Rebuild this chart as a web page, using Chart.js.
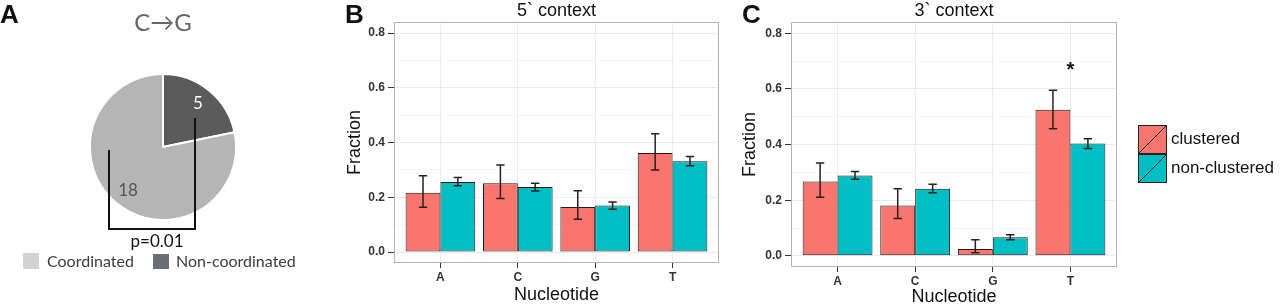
<!DOCTYPE html>
<html>
<head>
<meta charset="utf-8">
<script src="https://cdn.jsdelivr.net/npm/chart.js@4"></script>
<style>
  html, body { margin: 0; padding: 0; background: #fff; }
  #wrap { position: relative; width: 1280px; height: 306px; overflow: hidden; background: #fff; }
  canvas { position: absolute; top: 0; }
  .letter { position: absolute; top: 1px; font: bold 26px/26px "Liberation Sans", Arial, sans-serif; color: #111; }
</style>
</head>
<body>
<div id="wrap">
  <canvas id="pie" width="330" height="306" style="left:0px"></canvas>
  <canvas id="b" width="400" height="306" style="left:330px"></canvas>
  <canvas id="c" width="550" height="306" style="left:730px"></canvas>
  <div class="letter" style="left:0px">A</div>
  <div class="letter" style="left:345px">B</div>
  <div class="letter" style="left:742px">C</div>
</div>
<script>
// ---------- data ----------
const pieTitle = 'C\u2192G';
const pieLabels = ['Non-coordinated', 'Coordinated'];
const pieCounts = [5, 18];
const pieText = 'p=0.01';

const categories = ['A', 'C', 'G', 'T'];
const seriesNames = ['clustered', 'non-clustered'];
const yTickValues = [0, 0.2, 0.4, 0.6, 0.8];
const yMinorValues = [0.1, 0.3, 0.5, 0.7];

// 5` context
const ctx5Clustered = [0.217, 0.251, 0.165, 0.362];
const ctx5ClusteredLo = [0.164, 0.196, 0.120, 0.300];
const ctx5ClusteredHi = [0.279, 0.318, 0.224, 0.432];
const ctx5Non = [0.256, 0.238, 0.170, 0.332];
const ctx5NonLo = [0.242, 0.223, 0.156, 0.315];
const ctx5NonHi = [0.272, 0.251, 0.183, 0.349];

// 3` context
const ctx3Clustered = [0.267, 0.181, 0.025, 0.525];
const ctx3ClusteredLo = [0.211, 0.134, 0.011, 0.457];
const ctx3ClusteredHi = [0.334, 0.241, 0.058, 0.595];
const ctx3Non = [0.289, 0.241, 0.067, 0.404];
const ctx3NonLo = [0.275, 0.227, 0.058, 0.386];
const ctx3NonHi = [0.303, 0.257, 0.076, 0.421];

// significance marker (3` context, T)
const starCategory = 'T';
const starValue = 0.68;

// ---------- styling ----------
const RED = '#F8766D', TEAL = '#00BFC4';
const SANS = '"Liberation Sans", Arial, sans-serif';
const CAL = 'Lato, "Open Sans", sans-serif';

// ---------- pie (panel A) ----------
const pieExtras = {
  id: 'pieExtras',
  afterDatasetsDraw(chart) {
    const ctx = chart.ctx;
    const meta = chart.getDatasetMeta(0);
    const arcs = meta.data;
    const cx = arcs[0].x, cy = arcs[0].y, r = arcs[0].outerRadius;
    ctx.save();
    ctx.textAlign = 'center'; ctx.textBaseline = 'middle';
    ctx.font = '17px ' + CAL;
    const textColors = ['#ffffff', '#555555'];
    arcs.forEach((a, i) => {
      const mid = (a.startAngle + a.endAngle) / 2;
      ctx.fillStyle = textColors[i];
      ctx.fillText(String(pieCounts[i]), cx + Math.cos(mid) * r * 0.76, cy + Math.sin(mid) * r * 0.76);
    });
    ctx.fillStyle = '#666666';
    ctx.font = '24px ' + CAL;
    ctx.fillText(pieTitle, cx, 23);
    ctx.strokeStyle = '#111'; ctx.lineWidth = 2;
    ctx.beginPath();
    ctx.moveTo(cx - 54, cy + 3);
    ctx.lineTo(cx - 54, cy + 82);
    ctx.lineTo(cx + 32, cy + 82);
    ctx.lineTo(cx + 32, cy - 29);
    ctx.stroke();
    ctx.fillStyle = '#111';
    ctx.font = '17px ' + CAL;
    ctx.fillText(pieText, cx - 6, cy + 95);
    ctx.textAlign = 'left';
    ctx.font = '16px ' + CAL;
    ctx.fillStyle = '#d3d3d3'; ctx.fillRect(23, 253, 16, 16);
    ctx.fillStyle = '#3c3c3c'; ctx.fillText(pieLabels[1], 47, 262);
    ctx.fillStyle = '#6a6d73'; ctx.fillRect(153, 254, 16, 15);
    ctx.fillStyle = '#3c3c3c'; ctx.fillText(pieLabels[0], 176, 262);
    ctx.restore();
  }
};

new Chart(document.getElementById('pie'), {
  type: 'pie',
  data: {
    labels: pieLabels,
    datasets: [{
      data: pieCounts,
      backgroundColor: ['#5b5b5b', '#b5b5b5'],
      borderColor: '#ffffff',
      borderWidth: 2
    }]
  },
  options: {
    responsive: false, animation: false, devicePixelRatio: 1,
    layout: { padding: { left: 89, right: 93, top: 73, bottom: 85 } },
    plugins: { legend: { display: false }, tooltip: { enabled: false } }
  },
  plugins: [pieExtras]
});

// ---------- bar panels ----------
function isMajor(v) { return yTickValues.some(t => Math.abs(t - v) < 1e-9); }

const barExtras = {
  id: 'barExtras',
  afterDatasetsDraw(chart, args, opts) {
    const ctx = chart.ctx;
    const ys = chart.scales.y, xs = chart.scales.x;
    ctx.save();
    ctx.strokeStyle = '#2a1f1f'; ctx.lineWidth = 1.5;
    chart.data.datasets.forEach((ds, di) => {
      const meta = chart.getDatasetMeta(di);
      meta.data.forEach((bar, i) => {
        const lo = ys.getPixelForValue(ds.errLo[i]);
        const hi = ys.getPixelForValue(ds.errHi[i]);
        const cw = bar.width * 0.12;
        ctx.beginPath();
        ctx.moveTo(bar.x, lo); ctx.lineTo(bar.x, hi);
        ctx.moveTo(bar.x - cw, lo); ctx.lineTo(bar.x + cw, lo);
        ctx.moveTo(bar.x - cw, hi); ctx.lineTo(bar.x + cw, hi);
        ctx.stroke();
      });
    });
    const a = chart.chartArea;
    ctx.strokeStyle = '#b3b3b3'; ctx.lineWidth = 1;
    ctx.strokeRect(Math.round(a.left) + 0.5, Math.round(a.top) + 0.5, Math.round(a.right - a.left) - 1, Math.round(a.bottom - a.top) - 1);
    if (opts.star) {
      ctx.fillStyle = '#111';
      ctx.font = 'bold 20px ' + SANS;
      ctx.textAlign = 'center'; ctx.textBaseline = 'middle';
      ctx.fillText('*', xs.getPixelForValue(categories.indexOf(opts.star.cat) + 1), ys.getPixelForValue(opts.star.value) + 4);
    }
    if (opts.legend) {
      const x0 = a.right + 21, y0 = 125, s = 29;
      const cols = [RED, TEAL];
      ctx.font = '17px ' + SANS; ctx.textAlign = 'left'; ctx.textBaseline = 'middle';
      seriesNames.forEach((n, i) => {
        const y = y0 + i * s;
        ctx.fillStyle = cols[i]; ctx.fillRect(x0, y, s, s);
        ctx.strokeStyle = '#222'; ctx.lineWidth = 1;
        ctx.strokeRect(x0 + 0.5, y + 0.5, s - 1, s - 1);
        ctx.beginPath(); ctx.moveTo(x0 + 1, y + s - 1); ctx.lineTo(x0 + s - 1, y + 1); ctx.stroke();
        ctx.fillStyle = '#111';
        ctx.fillText(n, x0 + s + 4, y + s / 2);
      });
    }
    ctx.restore();
  }
};

function makeBar(id, title, cl, clLo, clHi, nc, ncLo, ncHi, geom, extraOpts) {
  const toPts = arr => arr.map((v, i) => ({ x: i + 1, y: v }));
  return new Chart(document.getElementById(id), {
    type: 'bar',
    data: {
      datasets: [
        { label: seriesNames[0], data: toPts(cl), errLo: clLo, errHi: clHi,
          backgroundColor: RED, borderColor: '#1a1a1a', borderWidth: 1, borderSkipped: false,
          categoryPercentage: 0.9, barPercentage: 1.0 },
        { label: seriesNames[1], data: toPts(nc), errLo: ncLo, errHi: ncHi,
          backgroundColor: TEAL, borderColor: '#1a1a1a', borderWidth: 1, borderSkipped: false,
          categoryPercentage: 0.9, barPercentage: 1.0 }
      ]
    },
    options: {
      responsive: false, animation: false, devicePixelRatio: 1,
      layout: { padding: { left: 0, right: geom.right, top: 0, bottom: 0 } },
      scales: {
        x: {
          type: 'linear', min: 0.4, max: 4.6, offset: false,
          afterBuildTicks: s => { s.ticks = categories.map((c, i) => ({ value: i + 1 })); },
          afterFit: s => { s.height = geom.xh; },
          ticks: { autoSkip: false, padding: 2, color: '#333', font: { family: SANS, size: 12, weight: 'bold' },
                   callback: v => categories[Math.round(v) - 1] },
          grid: { color: '#ebebeb', tickColor: '#333', tickLength: 5, offset: false },
          border: { display: false },
          title: { display: true, text: 'Nucleotide', color: '#111', font: { family: SANS, size: 18, lineHeight: 1 },
                   padding: { top: 0, bottom: geom.xtpad } }
        },
        y: {
          min: -0.04, max: 0.84,
          afterBuildTicks: s => { s.ticks = yTickValues.concat(yMinorValues).sort((p, q) => p - q).map(v => ({ value: v })); },
          afterFit: s => { s.width = geom.yw; },
          ticks: { autoSkip: false, padding: 3, color: '#333', font: { family: SANS, size: 12, weight: 'bold' },
                   callback: v => isMajor(v) ? v.toFixed(1) : '' },
          grid: {
            color: c => (c.tick && isMajor(c.tick.value)) ? '#ebebeb' : '#f6f6f6',
            tickColor: c => (c.tick && isMajor(c.tick.value)) ? '#333' : 'rgba(0,0,0,0)',
            tickLength: 6
          },
          border: { display: false },
          title: { display: true, text: 'Fraction', color: '#111', font: { family: SANS, size: 18, lineHeight: 1 },
                   padding: { top: geom.ytpad, bottom: 0 } }
        }
      },
      plugins: {
        legend: { display: false },
        tooltip: { enabled: false },
        title: { display: true, text: title, fullSize: false, color: '#111',
                 font: { family: SANS, size: 18, weight: 'normal', lineHeight: 1.2 },
                 padding: { top: 0, bottom: 0.5 } },
        barExtras: extraOpts
      }
    },
    plugins: [barExtras]
  });
}

makeBar('b', '5` context', ctx5Clustered, ctx5ClusteredLo, ctx5ClusteredHi, ctx5Non, ctx5NonLo, ctx5NonHi,
  { right: 11, xh: 43, yw: 64, xtpad: 2, ytpad: 16 }, {});
makeBar('c', '3` context', ctx3Clustered, ctx3ClusteredLo, ctx3ClusteredHi, ctx3Non, ctx3NonLo, ctx3NonHi,
  { right: 163, xh: 39, yw: 61, xtpad: 0, ytpad: 11 },
  { star: { cat: starCategory, value: starValue }, legend: true });
</script>
</body>
</html>
